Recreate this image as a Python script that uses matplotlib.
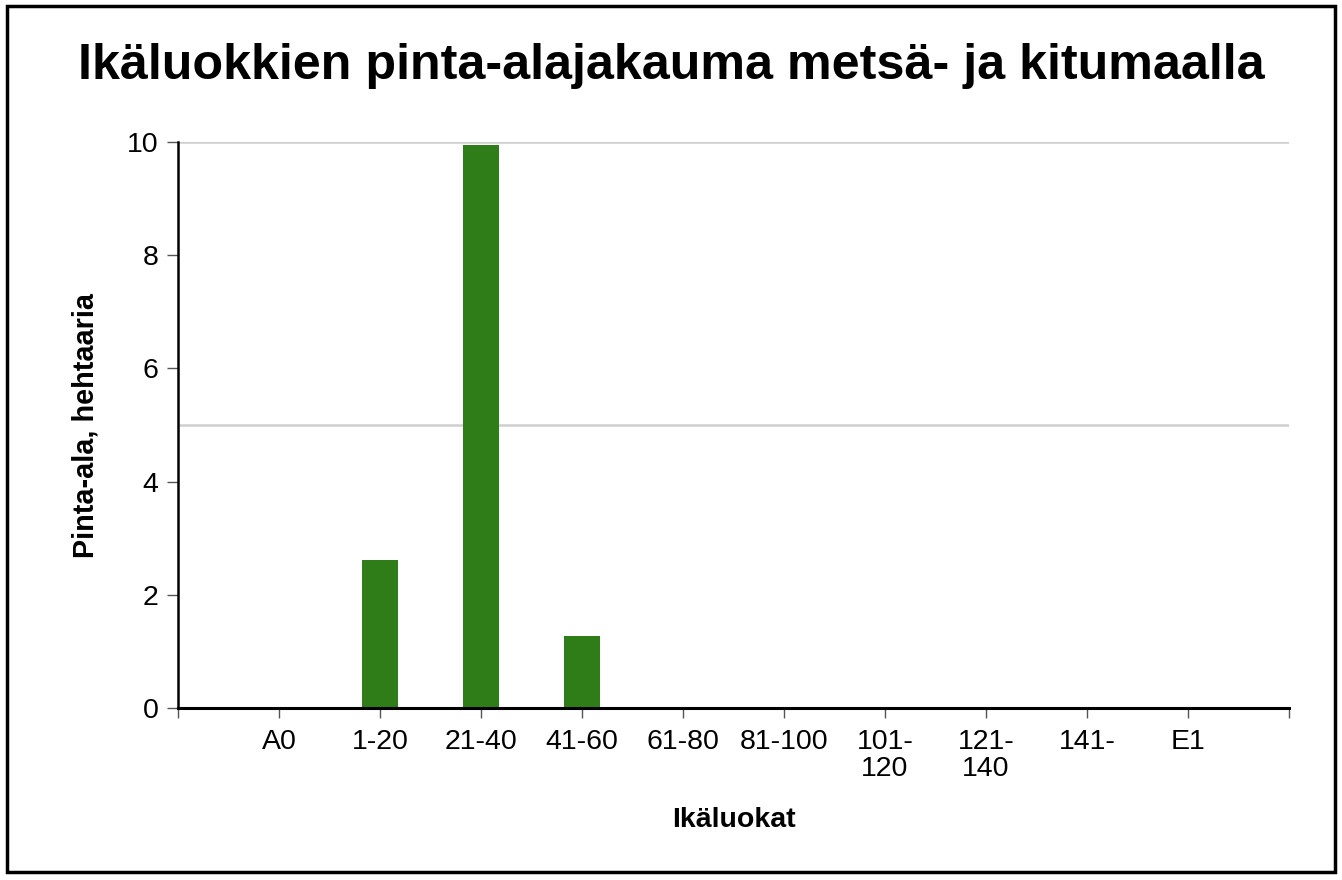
import matplotlib
matplotlib.use("Agg")
import matplotlib.pyplot as plt
from matplotlib.patches import Rectangle
import numpy as np

plt.rcParams['font.family'] = ['Liberation Sans', 'DejaVu Sans']

categories = ["A0", "1-20", "21-40", "41-60", "61-80", "81-100",
              "101-\n120", "121-\n140", "141-", "E1"]
area_ha = [0.0, 2.61, 9.95, 1.27, 0.0, 0.0, 0.0, 0.0, 0.0, 0.0]
y_ticks = [0, 2, 4, 6, 8, 10]
grid_at = [5, 10]

W, H = 1342, 880
fig = plt.figure(figsize=(W / 100, H / 100), dpi=100)
fig.patch.set_facecolor('white')
ax = fig.add_axes([178 / W, 1 - 708 / H, (1289 - 178) / W, (708 - 142) / H])

xs = np.arange(len(categories))
for g in grid_at:
    ax.axhline(g, color='#cfcfcf', lw=1.8, zorder=0)
ax.bar(xs, area_ha, width=0.35, color='#2e7d18', zorder=2)

ax.set_xlim(-1, len(categories))
ax.set_ylim(0, 10)
ax.set_yticks(y_ticks)
ax.set_xticks(np.arange(-1, len(categories) + 1))
ax.set_xticklabels([""] + categories + [""], va='top', linespacing=1.05)

ax.spines['top'].set_visible(False)
ax.spines['right'].set_visible(False)
ax.spines['left'].set_linewidth(1.8)
ax.spines['bottom'].set_linewidth(2.2)
ax.tick_params(axis='y', length=8, width=1, color='#555555', labelsize=20.5, pad=6)
ax.tick_params(axis='x', length=7, width=1, color='#555555', labelsize=20.5, pad=8)

ax.set_xlabel("Ikäluokat", fontsize=20.5, fontweight='bold', labelpad=18)
ax.set_ylabel("Pinta-ala, hehtaaria", fontsize=20.8, fontweight='bold', labelpad=20)

fig.text(0.5, 1 - 66 / H, "Ikäluokkien pinta-alajakauma metsä- ja kitumaalla",
         ha='center', va='center', fontsize=36.2, fontweight='bold')

fig.patches.append(Rectangle((7 / W, 1 - 872 / H), (1335 - 7) / W, (872 - 6) / H,
                             transform=fig.transFigure, fill=False,
                             edgecolor='black', lw=2.5))

fig.savefig("out.png", dpi=100)
